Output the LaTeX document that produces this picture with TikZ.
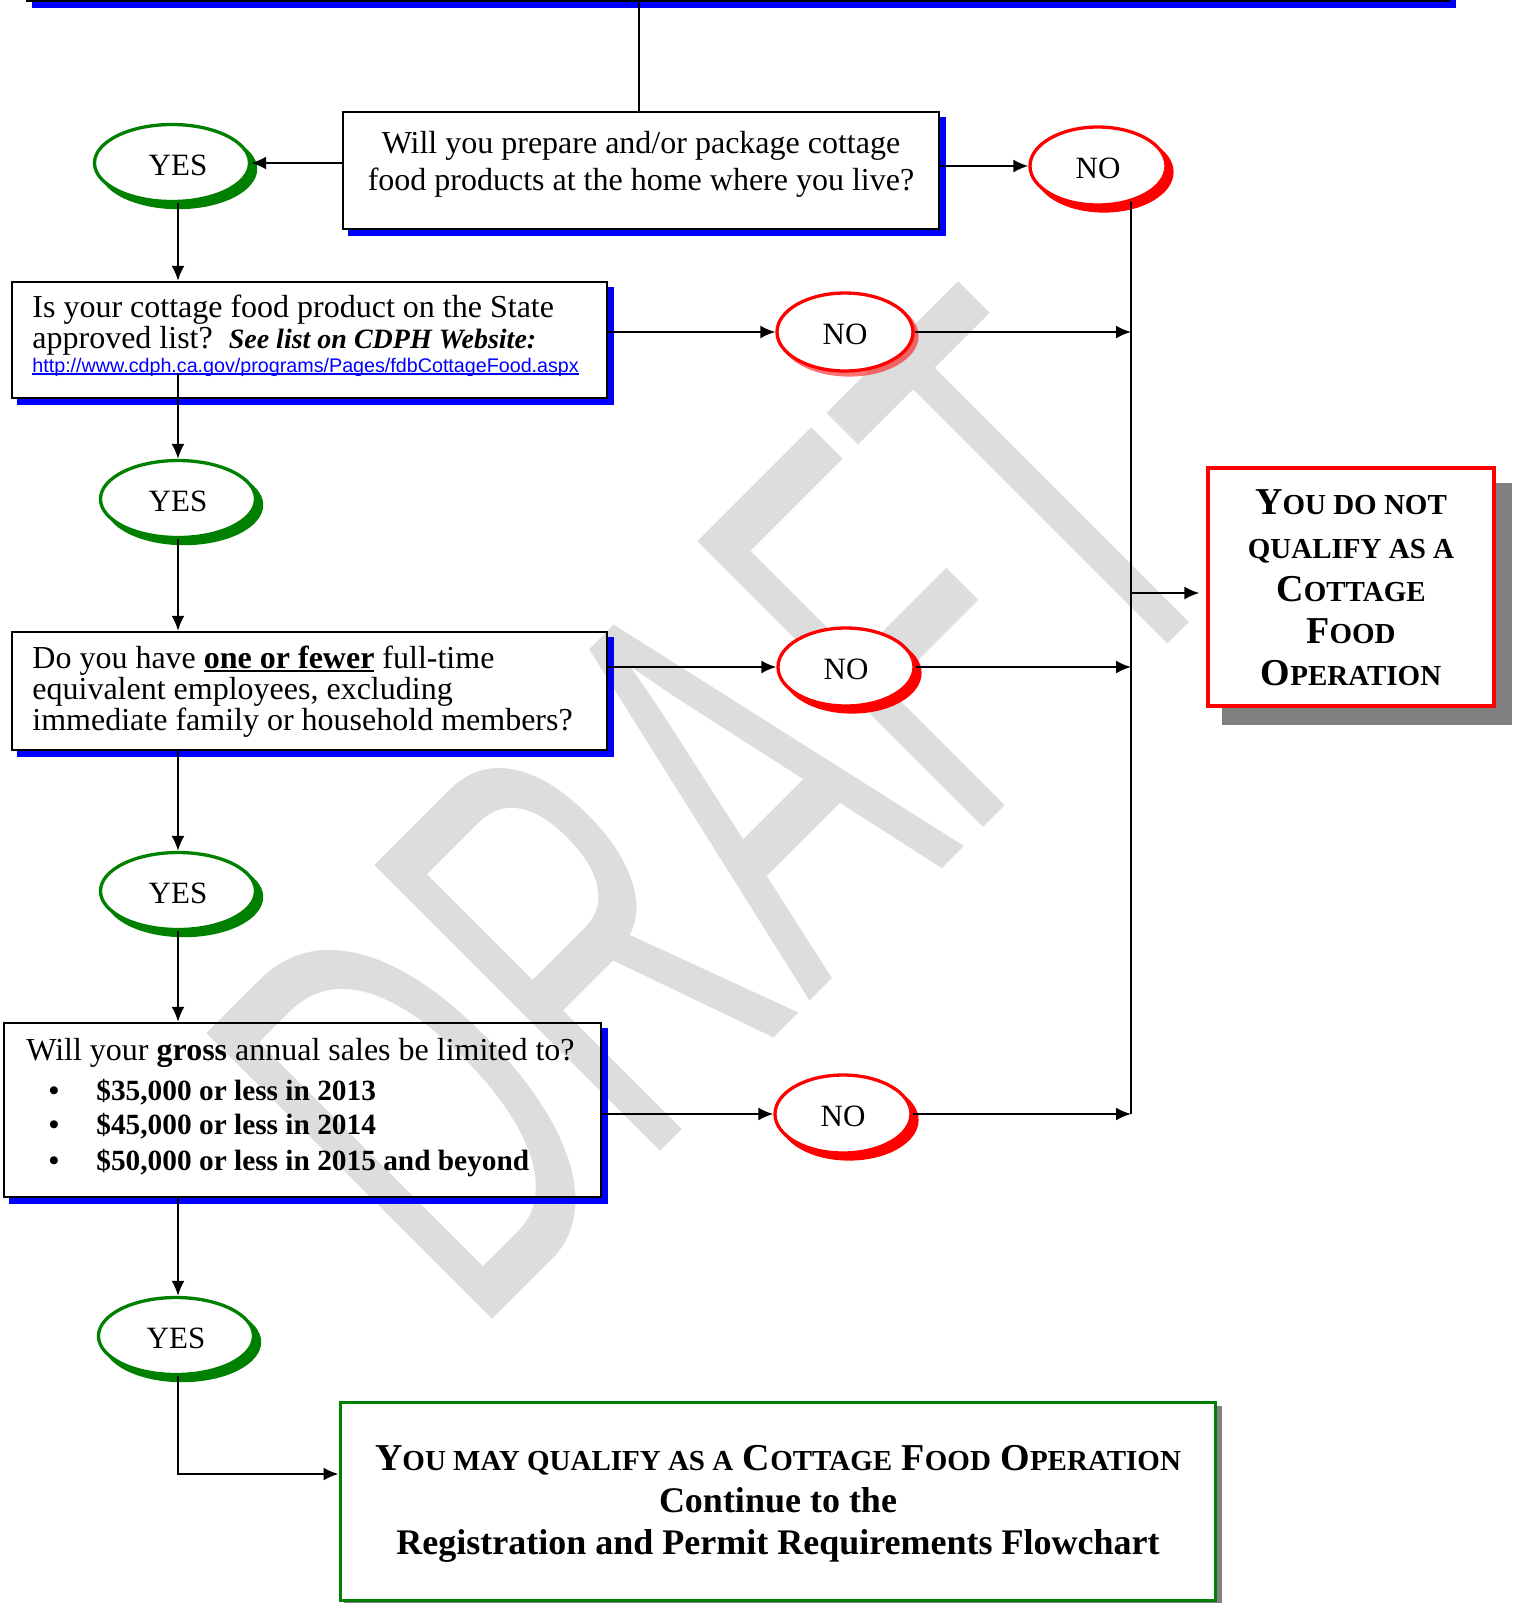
\documentclass[tikz,border=0pt]{standalone}
\usepackage{graphicx}
\usepackage{fontspec}
\setmainfont{Liberation Serif}
\newfontfamily\arialfont{Liberation Sans}
\usetikzlibrary{shapes.geometric,arrows.meta,calc}
\definecolor{wblue}{RGB}{0,0,255}
\definecolor{wgreen}{RGB}{0,128,0}
\definecolor{wred}{RGB}{255,0,0}
\definecolor{wgray}{RGB}{128,128,128}
\definecolor{wmgray}{RGB}{221,221,221}
\pgfdeclarelayer{wm}
\pgfdeclarelayer{bg}
\pgfsetlayers{wm,bg,main}
\newcommand\SC[1]{{\fontsize{14.5}{17}\selectfont #1}}
\newcommand\ul[2][-2pt]{\setbox0\hbox{#2}\rlap{\rule[#1]{\wd0}{0.9pt}}\box0\relax}
\newcommand\lowr[1]{\raisebox{0pt}[\dimexpr\height+2pt\relax][\depth]{#1}}
\frenchspacing
\begin{document}
\begin{tikzpicture}[x=0.5pt,y=-0.5pt,
  qbox/.style={draw=black, line width=1.2pt, inner sep=0},
  yesn/.style={ellipse, draw=wgreen, fill=white, line width=1.65pt, minimum width=77.5pt, minimum height=38.5pt, inner sep=0, font=\fontsize{15.5}{18}\selectfont},
  non/.style={ellipse, draw=wred, fill=white, line width=1.65pt, minimum width=68pt, minimum height=39pt, inner sep=0, font=\fontsize{15.5}{18}\selectfont},
  conn/.style={line width=1pt},
  arr/.style={line width=1pt, -{Latex[length=7.5pt, width=6.5pt]}},
  body/.style={inner sep=0, font=\fontsize{16}{18}\selectfont},
  bul/.style={inner sep=0, font=\fontsize{14.67}{17}\selectfont\bfseries},
  endt/.style={inner sep=0, font=\fontsize{19}{22}\selectfont\bfseries},
  endr/.style={inner sep=0, font=\fontsize{18}{21}\selectfont\bfseries}]
\useasboundingbox (0,0) rectangle (1515,1603);

% watermark
\begin{pgfonlayer}{wm}
\node[anchor=south west, inner sep=0, rotate=45, text=wmgray] (wm) at (473,1339)
  {\resizebox{549pt}{202pt}{\arialfont DRAFT}};
\end{pgfonlayer}

% boxes
\node[qbox, line width=0.8pt, minimum width=711pt, minimum height=51pt] (top) at (738,-50) {};
\node[qbox, minimum width=298pt, minimum height=58.5pt] (box1) at (641,170.5) {};
\node[qbox, minimum width=297.5pt, minimum height=58pt] (box2) at (309.5,340) {};
\node[qbox, minimum width=297.5pt, minimum height=59pt] (box3) at (309.5,691) {};
\node[qbox, minimum width=298.5pt, minimum height=87pt] (box4) at (302.5,1110) {};
\node[draw=wred, fill=white, line width=1.65pt, minimum width=143pt, minimum height=119pt, inner sep=0] (red) at (1351,587) {};
\node[draw=wgreen, line width=1.5pt, minimum width=437.5pt, minimum height=99pt, inner sep=0] (green) at (777.5,1501) {};

% ellipses
\node[yesn] (yes1) at (172,163) {\lowr{\hspace*{6pt}YES}};
\node[non] (no1) at (1098,166) {\lowr{NO}};
\node[non] (no2) at (845,332) {\lowr{NO}};
\node[yesn] (yes2) at (178,499) {\lowr{YES}};
\node[non] (no3) at (846,667) {\lowr{NO}};
\node[yesn] (yes3) at (178,891) {\lowr{YES}};
\node[non] (no4) at (843,1114) {\lowr{NO}};
\node[yesn] (yes4) at (176,1336) {\lowr{YES}};

% shadows
\begin{pgfonlayer}{bg}
\foreach \n in {top,box1,box2,box3,box4} {
  \fill[wblue] ($(\n.north east)+(0,6)$) rectangle ($(\n.south east)+(6,6)$);
  \fill[wblue] ($(\n.south west)+(6,0)$) rectangle ($(\n.south east)+(6,6)$);
}
\fill[wgray] ($(red.north east)+(0,17)$) rectangle ($(red.south east)+(16,17)$);
\fill[wgray] ($(red.south west)+(16,0)$) rectangle ($(red.south east)+(16,17)$);
\fill[wgray] ($(green.north east)+(0,5)$) rectangle ($(green.south east)+(5,5)$);
\fill[wgray] ($(green.south west)+(5,0)$) rectangle ($(green.south east)+(5,5)$);
\foreach \n in {yes1,yes2,yes3,yes4}
  \fill[wgreen] ($(\n.center)+(6,6)$) ellipse [x radius=39.6pt, y radius=20.1pt];
\foreach \n in {no1,no3,no4}
  \fill[wred] ($(\n.center)+(6,6)$) ellipse [x radius=34.8pt, y radius=20.3pt];
\fill[wred, opacity=0.55] ($(no2.center)+(4,4)$) ellipse [x radius=34.8pt, y radius=20.3pt];
\end{pgfonlayer}

% texts
\node[body, anchor=base] (t1a) at (641,153) {Will you prepare and/or package cottage};
\node[body, anchor=base] (t1b) at (641,190) {food products at the home where you live?};

\node[body, anchor=base west] (t2a) at (32,317) {Is your cottage food product on the State};
\node[body, anchor=base west] (t2b) at (32,348) {approved list?\hspace{8pt}{\fontsize{14}{16}\selectfont\bfseries\itshape See list on CDPH Website:}};
\node[inner sep=0, anchor=base west, text=wblue, font=\arialfont\fontsize{9.85}{12}\selectfont] (t2c) at (32,372) {\ul[-1.4pt]{http://www.cdph.ca.gov/programs/Pages/fdbCottageFood.aspx}};

\node[body, anchor=base west] (t3a) at (32,668) {Do you have \ul{\textbf{one or fewer}} full-time};
\node[body, anchor=base west] (t3b) at (32,699) {equivalent employees, excluding};
\node[body, anchor=base west] (t3c) at (32,730) {immediate family or household members?};

\node[body, anchor=base west] (t4a) at (26,1060) {Will your \textbf{gross} annual sales be limited to?};
\node[bul, anchor=base] (b1) at (54,1100) {\textbullet};
\node[bul, anchor=base] (b2) at (54,1134) {\textbullet};
\node[bul, anchor=base] (b3) at (54,1170) {\textbullet};
\node[bul, anchor=base west] (t4b) at (96,1100) {\$35,000 or less in 2013};
\node[bul, anchor=base west] (t4c) at (96,1134) {\$45,000 or less in 2014};
\node[bul, anchor=base west] (t4d) at (96,1170) {\$50,000 or less in 2015 and beyond};

\node[endt, anchor=base] (r1) at (1351,514) {Y\SC{OU DO NOT}};
\node[endt, anchor=base] (r2) at (1351,558) {\SC{QUALIFY AS A}};
\node[endt, anchor=base] (r3) at (1351,601) {C\SC{OTTAGE}};
\node[endt, anchor=base] (r4) at (1351,643) {F\SC{OOD}};
\node[endt, anchor=base] (r5) at (1351,685) {O\SC{PERATION}};

\node[endt, anchor=base] (g1) at (778,1470) {Y\SC{OU MAY QUALIFY AS A} C\SC{OTTAGE} F\SC{OOD} O\SC{PERATION}};
\node[endr, anchor=base] (g2) at (778,1512) {Continue to the};
\node[endr, anchor=base] (g3) at (778,1554) {Registration and Permit Requirements Flowchart};

% connectors
\coordinate (trT) at (1131,202);
\coordinate (spine) at (178,0);
\coordinate (b2in) at (178,373);
\coordinate (topx) at (639,0);
\draw[conn] (top.south -| topx) -- (box1.north -| topx);
\draw[arr] (box1.west |- yes1.east) -- (yes1.east);
\draw[arr] (box1.east |- no1.west) -- (no1.west);
\draw[conn] (trT) -- (trT |- no4.east);
\draw[arr] (yes1.south -| spine) -- (box2.north -| spine);
\draw[arr] (box2.east |- no2.west) -- (no2.west);
\draw[arr] (no2.east) -- (no2.east -| trT);
\draw[arr] (b2in) -- (yes2.north -| spine);
\draw[arr] (yes2.south -| spine) -- (box3.north -| spine);
\draw[arr] (box3.east |- no3.west) -- (no3.west);
\draw[arr] (no3.east) -- (no3.east -| trT);
\draw[arr] (box3.south -| spine) -- (yes3.north -| spine);
\draw[arr] (yes3.south -| spine) -- (box4.north -| spine);
\draw[arr] (box4.east |- no4.west) -- (no4.west);
\draw[arr] (no4.east) -- (no4.east -| trT);
\draw[arr] (box4.south -| spine) -- (yes4.north -| spine);
\draw[arr] (yes4.south -| spine) |- ($(green.west)+(0,-27)$);
\draw[arr, shorten >=3.5pt] (trT |- red.west) ++(0,6) -- ($(red.west)+(0,6)$);
\end{tikzpicture}
\end{document}
